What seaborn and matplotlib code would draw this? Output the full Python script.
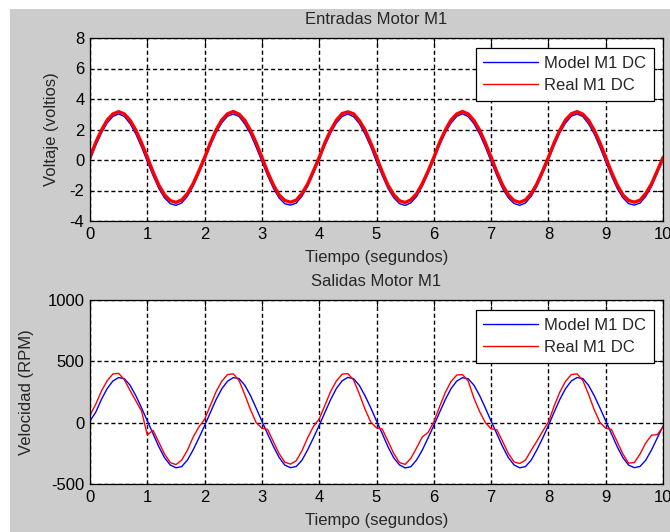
import numpy as np
import pandas as pd
import matplotlib
matplotlib.use("Agg")
import matplotlib.pyplot as plt
from matplotlib.patches import Rectangle
import seaborn as sns

# tiempo de muestreo (0 a 10 s, cada 0.1 s)
tiempo = np.linspace(0, 10, 101)

# entradas: voltaje (voltios)
volt_model = [0.00, 0.95, 1.78, 2.43, 2.86, 3.02, 2.85, 2.38, 1.70, 0.85,
              -0.10, -1.02, -1.86, -2.48, -2.86, -2.97, -2.82, -2.38, -1.72, -0.88,
              0.02, 0.94, 1.79, 2.44, 2.87, 3.01, 2.86, 2.37, 1.71, 0.84,
              -0.09, -1.03, -1.85, -2.49, -2.87, -2.96, -2.83, -2.37, -1.73, -0.87,
              0.01, 0.95, 1.77, 2.43, 2.85, 3.02, 2.84, 2.39, 1.69, 0.86,
              -0.11, -1.01, -1.86, -2.47, -2.86, -2.98, -2.81, -2.39, -1.71, -0.89,
              0.02, 0.96, 1.78, 2.42, 2.86, 3.03, 2.85, 2.38, 1.70, 0.85,
              -0.10, -1.02, -1.87, -2.48, -2.85, -2.97, -2.82, -2.38, -1.72, -0.88,
              0.01, 0.95, 1.79, 2.43, 2.87, 3.02, 2.85, 2.37, 1.71, 0.84,
              -0.10, -1.03, -1.86, -2.48, -2.86, -2.96, -2.82, -2.38, -1.73, -0.87,
              0.02]
volt_real = [0.20, 1.15, 1.96, 2.62, 3.02, 3.17, 3.02, 2.60, 1.96, 1.12,
             0.18, -0.78, -1.64, -2.28, -2.66, -2.78, -2.62, -2.20, -1.55, -0.72,
             0.16, 1.13, 1.97, 2.63, 3.03, 3.18, 3.01, 2.61, 1.95, 1.13,
             0.17, -0.79, -1.63, -2.29, -2.65, -2.77, -2.63, -2.19, -1.56, -0.71,
             0.17, 1.14, 1.95, 2.61, 3.04, 3.16, 3.03, 2.59, 1.97, 1.11,
             0.19, -0.77, -1.65, -2.27, -2.67, -2.79, -2.61, -2.21, -1.54, -0.73,
             0.16, 1.15, 1.96, 2.62, 3.02, 3.18, 3.02, 2.60, 1.96, 1.12,
             0.18, -0.78, -1.64, -2.28, -2.66, -2.78, -2.62, -2.20, -1.55, -0.72,
             0.17, 1.13, 1.96, 2.63, 3.03, 3.17, 3.01, 2.61, 1.95, 1.13,
             0.17, -0.79, -1.63, -2.29, -2.65, -2.77, -2.63, -2.19, -1.56, -0.71,
             0.16]

# salidas: velocidad (RPM)
vel_model = [15, 85, 190, 278, 340, 368, 358, 305, 220, 120,
             15, -90, -195, -285, -345, -368, -358, -305, -222, -125,
             -25, 82, 188, 276, 338, 367, 360, 306, 222, 118,
             12, -92, -193, -283, -346, -367, -357, -306, -220, -123,
             -22, 84, 189, 279, 341, 369, 359, 304, 219, 121,
             14, -89, -196, -286, -344, -369, -359, -304, -223, -124,
             -24, 83, 187, 277, 339, 367, 358, 306, 221, 119,
             13, -91, -194, -284, -345, -368, -358, -305, -221, -126,
             -23, 85, 190, 278, 340, 368, 360, 305, 220, 120,
             15, -90, -195, -285, -346, -367, -357, -305, -222, -125,
             -28]
vel_real = [60, 150, 258, 342, 397, 402, 350, 262, 178, 95,
            -100, -62, -158, -255, -325, -342, -305, -225, -118, -35,
            28, 140, 252, 338, 392, 398, 345, 230, 107, 0,
            -45, -55, -155, -252, -322, -338, -310, -228, -122, -30,
            30, 142, 255, 340, 395, 400, 348, 235, 110, 5,
            -42, -52, -150, -250, -325, -340, -290, -205, -116, -80,
            5, 130, 245, 335, 388, 392, 340, 200, 90, 0,
            -50, -58, -152, -250, -320, -333, -305, -225, -150, -70,
            5, 135, 250, 338, 392, 398, 345, 232, 105, 2,
            -45, -55, -155, -255, -330, -325, -255, -165, -102, -98,
            -35]

df = pd.DataFrame({"t": tiempo, "vm": volt_model, "vr": volt_real,
                   "wm": vel_model, "wr": vel_real})

sns.set_style("white")
plt.rcParams["font.family"] = ["Liberation Sans", "DejaVu Sans"]
plt.rcParams["font.size"] = 12
plt.rcParams["axes.unicode_minus"] = False

W, H = 670, 532
fig = plt.figure(figsize=(W / 100, H / 100), dpi=100, facecolor="white")
fig.patches.append(Rectangle((10 / W, 0), 660 / W, 523 / H, transform=fig.transFigure,
                             facecolor="#cccccc", edgecolor="none", zorder=-10))

ax1 = fig.add_axes([90 / W, (H - 221) / H, 573 / W, 183 / H])
ax2 = fig.add_axes([90 / W, (H - 484) / H, 573 / W, 184 / H])

sns.lineplot(data=df, x="t", y="vm", ax=ax1, color="#0000ff", lw=1.0, label="Model M1 DC")
sns.lineplot(data=df, x="t", y="vr", ax=ax1, color="#ff0000", lw=2.4, label="Real M1 DC")
sns.lineplot(data=df, x="t", y="wm", ax=ax2, color="#0000ff", lw=1.0, label="Model M1 DC")
sns.lineplot(data=df, x="t", y="wr", ax=ax2, color="#ff0000", lw=1.0, label="Real M1 DC")

config = [
    (ax1, (-4, 8), np.arange(-4, 9, 2), "Entradas Motor M1", "Voltaje (voltios)", -0.068),
    (ax2, (-500, 1000), [-500, 0, 500, 1000], "Salidas Motor M1", "Velocidad (RPM)", -0.11),
]
for ax, ylim, yt, titulo, ylab, ylx in config:
    ax.set_facecolor("white")
    ax.set_xlim(0, 10)
    ax.set_ylim(*ylim)
    ax.set_xticks(range(0, 11))
    ax.set_yticks(yt)
    ax.set_axisbelow(True)
    ax.grid(True, color="black", linestyle=(0, (3.0, 2.0)), linewidth=1.0)
    for s in ax.spines.values():
        s.set_color("black")
        s.set_linewidth(0.9)
        s.set_visible(True)
    ax.tick_params(direction="in", length=4, width=0.8, top=True, right=True,
                   labelsize=12, colors="black", pad=4)
    ax.set_title(titulo, fontsize=12, y=1.10, va="center", pad=0)
    ax.set_xlabel("Tiempo (segundos)", fontsize=12)
    ax.xaxis.set_label_coords(0.5, -0.197)
    ax.xaxis.label.set_va("center")
    ax.set_ylabel(ylab, fontsize=12)
    ax.yaxis.set_label_coords(ylx, 0.5)
    ax.yaxis.label.set_va("center")
    leg = ax.legend(loc="upper right", bbox_to_anchor=(0.984, 0.945), borderaxespad=0,
                    fancybox=False, framealpha=1, edgecolor="black", fontsize=12,
                    handlelength=3.3, handletextpad=0.35, labelspacing=0.45,
                    borderpad=0.45)
    leg.get_frame().set_linewidth(0.9)
    for ln in leg.get_lines():
        ln.set_linewidth(1.0)

fig.savefig("out.png", dpi=100, facecolor=fig.get_facecolor())
